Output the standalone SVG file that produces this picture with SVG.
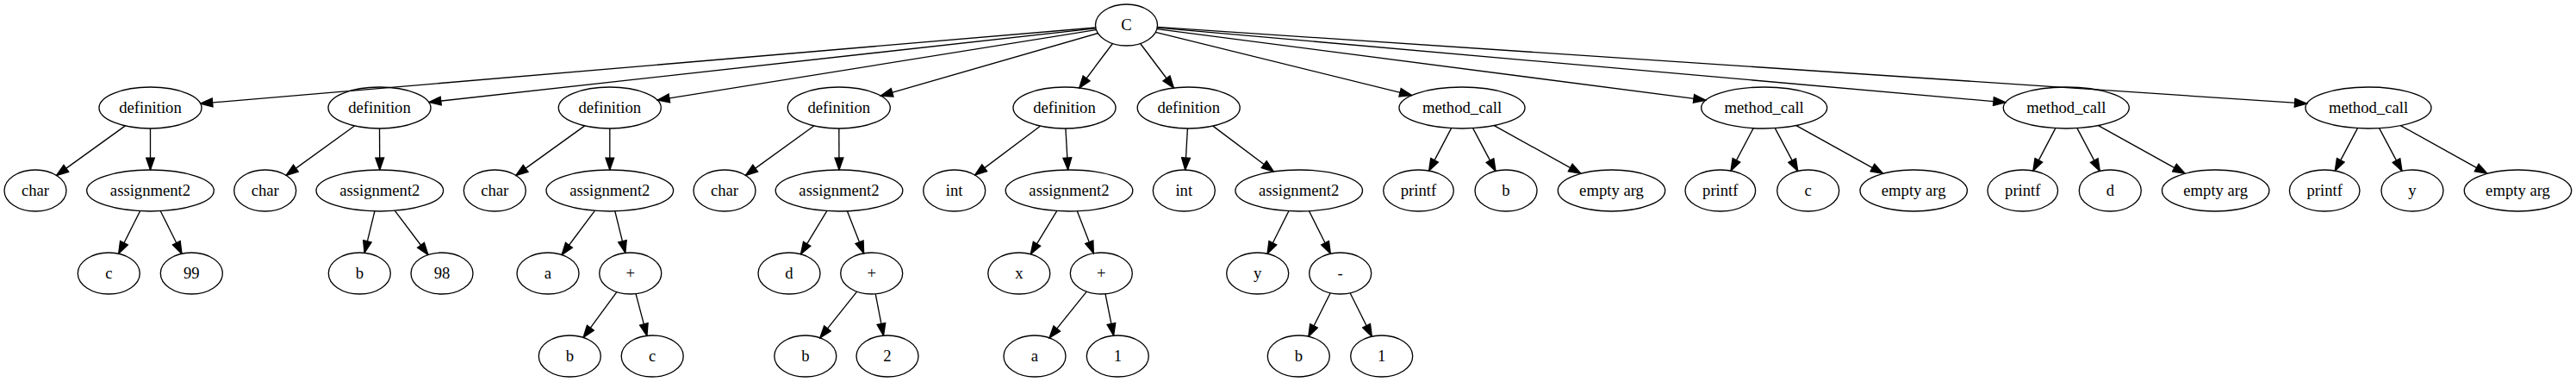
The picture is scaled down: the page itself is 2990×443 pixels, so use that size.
<svg xmlns="http://www.w3.org/2000/svg" width="2990" height="443" viewBox="0 0 2990 443">
<style>
ellipse{fill:none;stroke:#000;stroke-width:1.33}
text{font-family:"Liberation Serif","Times New Roman",serif;font-size:18.67px;text-anchor:middle;fill:#000}
.e line{stroke:#000;stroke-width:1.33;marker-end:url(#ah)}
</style>
<defs>
<marker id="ah" markerUnits="userSpaceOnUse" markerWidth="16" markerHeight="12" viewBox="-1 -1 15.33 11.33" refX="13.33" refY="4.67" orient="auto">
<path d="M0,0 L13.33,4.67 L0,9.33 Z" fill="#000" stroke="#000" stroke-width="1.33"/>
</marker>
</defs>
<rect width="2990" height="443" fill="#fff"/>
<g class="e" id="connectors">
<line x1="1271.8" y1="32.0" x2="232.7" y2="120.1"/>
<line x1="1272.0" y1="32.9" x2="497.9" y2="118.6"/>
<line x1="1272.5" y1="34.6" x2="763.1" y2="116.1"/>
<line x1="1274.4" y1="38.5" x2="1022.2" y2="111.1"/>
<line x1="1291.4" y1="50.5" x2="1252.7" y2="102.0"/>
<line x1="1323.6" y1="50.5" x2="1362.4" y2="102.0"/>
<line x1="1341.3" y1="37.3" x2="1638.6" y2="110.6"/>
<line x1="1342.8" y1="33.6" x2="1979.8" y2="116.2"/>
<line x1="1343.2" y1="32.1" x2="2327.8" y2="118.8"/>
<line x1="1343.3" y1="31.4" x2="2677.5" y2="120.2"/>
<line x1="145.4" y1="145.9" x2="65.5" y2="203.4"/>
<line x1="174.5" y1="149" x2="174.5" y2="197"/>
<line x1="411.5" y1="146.0" x2="332.1" y2="203.4"/>
<line x1="440.5" y1="149" x2="440.8" y2="197"/>
<line x1="678.7" y1="145.9" x2="598.8" y2="203.4"/>
<line x1="707.8" y1="149" x2="707.8" y2="197"/>
<line x1="944.8" y1="146.0" x2="865.4" y2="203.4"/>
<line x1="973.8" y1="149" x2="974" y2="197"/>
<line x1="1207.4" y1="146.2" x2="1131.6" y2="203.1"/>
<line x1="1236.9" y1="149" x2="1239.6" y2="197"/>
<line x1="1378.4" y1="149" x2="1375.7" y2="197"/>
<line x1="1407.9" y1="146.1" x2="1478.3" y2="199.0"/>
<line x1="1684.6" y1="148.6" x2="1658.6" y2="198.1"/>
<line x1="1709.6" y1="148.6" x2="1736.0" y2="198.4"/>
<line x1="1734.3" y1="145.6" x2="1834.9" y2="201.3"/>
<line x1="2035.2" y1="148.6" x2="2009.0" y2="198.1"/>
<line x1="2060.3" y1="148.6" x2="2086.7" y2="198.4"/>
<line x1="2085.0" y1="145.6" x2="2185.6" y2="201.3"/>
<line x1="2385.9" y1="148.6" x2="2359.9" y2="198.1"/>
<line x1="2410.9" y1="148.6" x2="2437.3" y2="198.4"/>
<line x1="2435.6" y1="145.6" x2="2536.1" y2="201.3"/>
<line x1="2736.5" y1="148.6" x2="2710.3" y2="198.1"/>
<line x1="2761.6" y1="148.6" x2="2788.0" y2="198.4"/>
<line x1="2786.3" y1="145.6" x2="2886.9" y2="201.3"/>
<line x1="162.6" y1="244.7" x2="137.7" y2="294.2"/>
<line x1="186.3" y1="244.7" x2="211.0" y2="294.3"/>
<line x1="434.9" y1="244.9" x2="423.1" y2="293.3"/>
<line x1="458.3" y1="244.3" x2="496.9" y2="295.5"/>
<line x1="690.4" y1="244.3" x2="652.1" y2="295.5"/>
<line x1="713.8" y1="244.9" x2="725.8" y2="293.3"/>
<line x1="959.8" y1="244.6" x2="929.5" y2="294.7"/>
<line x1="983.4" y1="244.8" x2="1002.6" y2="293.8"/>
<line x1="1226.7" y1="244.6" x2="1196.3" y2="294.7"/>
<line x1="1250.3" y1="244.8" x2="1269.3" y2="293.8"/>
<line x1="1495.9" y1="244.7" x2="1471.1" y2="294.2"/>
<line x1="1519.5" y1="244.7" x2="1544.3" y2="294.2"/>
<line x1="715.9" y1="338.6" x2="677.1" y2="391.4"/>
<line x1="738.0" y1="340.6" x2="750.9" y2="389.4"/>
<line x1="994.7" y1="338.2" x2="951.8" y2="391.8"/>
<line x1="1016.2" y1="340.8" x2="1025.5" y2="389.2"/>
<line x1="1261.3" y1="338.2" x2="1218.0" y2="391.9"/>
<line x1="1283.0" y1="340.8" x2="1292.6" y2="389.2"/>
<line x1="1544.2" y1="339.8" x2="1518.8" y2="390.3"/>
<line x1="1567.1" y1="339.8" x2="1592.3" y2="390.3"/>
</g>
<g id="n0"><ellipse cx="1307.5" cy="29" rx="36" ry="24"/><text x="1307.5" y="35">C</text></g>
<g id="d1"><ellipse cx="174.5" cy="125" rx="59.5" ry="24"/><text x="174.5" y="131">definition</text></g>
<g id="d2"><ellipse cx="440.5" cy="125" rx="59.5" ry="24"/><text x="440.5" y="131">definition</text></g>
<g id="d3"><ellipse cx="707.8" cy="125" rx="59.5" ry="24"/><text x="707.8" y="131">definition</text></g>
<g id="d4"><ellipse cx="973.8" cy="125" rx="59.5" ry="24"/><text x="973.8" y="131">definition</text></g>
<g id="d5"><ellipse cx="1235.5" cy="125" rx="59.5" ry="24"/><text x="1235.5" y="131">definition</text></g>
<g id="d6"><ellipse cx="1379.7" cy="125" rx="59.5" ry="24"/><text x="1379.7" y="131">definition</text></g>
<g id="m1"><ellipse cx="1697" cy="125" rx="73" ry="24"/><text x="1697" y="131">method_call</text></g>
<g id="m2"><ellipse cx="2047.7" cy="125" rx="73" ry="24"/><text x="2047.7" y="131">method_call</text></g>
<g id="m3"><ellipse cx="2398.3" cy="125" rx="73" ry="24"/><text x="2398.3" y="131">method_call</text></g>
<g id="m4"><ellipse cx="2749" cy="125" rx="73" ry="24"/><text x="2749" y="131">method_call</text></g>
<g id="ch1"><ellipse cx="41" cy="221" rx="36" ry="24"/><text x="41" y="227">char</text></g>
<g id="a1"><ellipse cx="174.5" cy="221" rx="73.8" ry="24"/><text x="174.5" y="227">assignment2</text></g>
<g id="ch2"><ellipse cx="307.7" cy="221" rx="36" ry="24"/><text x="307.7" y="227">char</text></g>
<g id="a2"><ellipse cx="440.8" cy="221" rx="73.8" ry="24"/><text x="440.8" y="227">assignment2</text></g>
<g id="ch3"><ellipse cx="574.3" cy="221" rx="36" ry="24"/><text x="574.3" y="227">char</text></g>
<g id="a3"><ellipse cx="707.8" cy="221" rx="73.8" ry="24"/><text x="707.8" y="227">assignment2</text></g>
<g id="ch4"><ellipse cx="841" cy="221" rx="36" ry="24"/><text x="841" y="227">char</text></g>
<g id="a4"><ellipse cx="974" cy="221" rx="73.8" ry="24"/><text x="974" y="227">assignment2</text></g>
<g id="i1"><ellipse cx="1107.7" cy="221" rx="36" ry="24"/><text x="1107.7" y="227">int</text></g>
<g id="a5"><ellipse cx="1241" cy="221" rx="73.8" ry="24"/><text x="1241" y="227">assignment2</text></g>
<g id="i2"><ellipse cx="1374.3" cy="221" rx="36" ry="24"/><text x="1374.3" y="227">int</text></g>
<g id="a6"><ellipse cx="1507.7" cy="221" rx="73.8" ry="24"/><text x="1507.7" y="227">assignment2</text></g>
<g id="p1"><ellipse cx="1646.5" cy="221" rx="40.8" ry="24"/><text x="1646.5" y="227">printf</text></g>
<g id="v1"><ellipse cx="1748" cy="221" rx="36" ry="24"/><text x="1748" y="227">b</text></g>
<g id="e1"><ellipse cx="1870.5" cy="221" rx="62.2" ry="24"/><text x="1870.5" y="227">empty arg</text></g>
<g id="p2"><ellipse cx="1996.8" cy="221" rx="40.8" ry="24"/><text x="1996.8" y="227">printf</text></g>
<g id="v2"><ellipse cx="2098.7" cy="221" rx="36" ry="24"/><text x="2098.7" y="227">c</text></g>
<g id="e2"><ellipse cx="2221.2" cy="221" rx="62.2" ry="24"/><text x="2221.2" y="227">empty arg</text></g>
<g id="p3"><ellipse cx="2347.8" cy="221" rx="40.8" ry="24"/><text x="2347.8" y="227">printf</text></g>
<g id="v3"><ellipse cx="2449.3" cy="221" rx="36" ry="24"/><text x="2449.3" y="227">d</text></g>
<g id="e3"><ellipse cx="2571.7" cy="221" rx="62.2" ry="24"/><text x="2571.7" y="227">empty arg</text></g>
<g id="p4"><ellipse cx="2698.2" cy="221" rx="40.8" ry="24"/><text x="2698.2" y="227">printf</text></g>
<g id="v4"><ellipse cx="2800" cy="221" rx="36" ry="24"/><text x="2800" y="227">y</text></g>
<g id="e4"><ellipse cx="2922.5" cy="221" rx="62.2" ry="24"/><text x="2922.5" y="227">empty arg</text></g>
<g id="r3a"><ellipse cx="126.3" cy="317" rx="36" ry="24"/><text x="126.3" y="323">c</text></g>
<g id="r3b"><ellipse cx="222.3" cy="317" rx="36" ry="24"/><text x="222.3" y="323">99</text></g>
<g id="r3c"><ellipse cx="417.3" cy="317" rx="36" ry="24"/><text x="417.3" y="323">b</text></g>
<g id="r3d"><ellipse cx="513" cy="317" rx="36" ry="24"/><text x="513" y="323">98</text></g>
<g id="r3e"><ellipse cx="636" cy="317" rx="36" ry="24"/><text x="636" y="323">a</text></g>
<g id="r3f"><ellipse cx="731.7" cy="317" rx="36" ry="24"/><text x="731.7" y="323">+</text></g>
<g id="r3g"><ellipse cx="916" cy="317" rx="36" ry="24"/><text x="916" y="323">d</text></g>
<g id="r3h"><ellipse cx="1011.7" cy="317" rx="36" ry="24"/><text x="1011.7" y="323">+</text></g>
<g id="r3i"><ellipse cx="1182.8" cy="317" rx="36" ry="24"/><text x="1182.8" y="323">x</text></g>
<g id="r3j"><ellipse cx="1278.3" cy="317" rx="36" ry="24"/><text x="1278.3" y="323">+</text></g>
<g id="r3k"><ellipse cx="1459.7" cy="317" rx="36" ry="24"/><text x="1459.7" y="323">y</text></g>
<g id="r3l"><ellipse cx="1555.7" cy="317" rx="36" ry="24"/><text x="1555.7" y="323">-</text></g>
<g id="r4a"><ellipse cx="661.3" cy="413" rx="36" ry="24"/><text x="661.3" y="419">b</text></g>
<g id="r4b"><ellipse cx="757.2" cy="413" rx="36" ry="24"/><text x="757.2" y="419">c</text></g>
<g id="r4c"><ellipse cx="934.8" cy="413" rx="36" ry="24"/><text x="934.8" y="419">b</text></g>
<g id="r4d"><ellipse cx="1030" cy="413" rx="36" ry="24"/><text x="1030" y="419">2</text></g>
<g id="r4e"><ellipse cx="1201" cy="413" rx="36" ry="24"/><text x="1201" y="419">a</text></g>
<g id="r4f"><ellipse cx="1297.3" cy="413" rx="36" ry="24"/><text x="1297.3" y="419">1</text></g>
<g id="r4g"><ellipse cx="1507.3" cy="413" rx="36" ry="24"/><text x="1507.3" y="419">b</text></g>
<g id="r4h"><ellipse cx="1603.7" cy="413" rx="36" ry="24"/><text x="1603.7" y="419">1</text></g>
</svg>
